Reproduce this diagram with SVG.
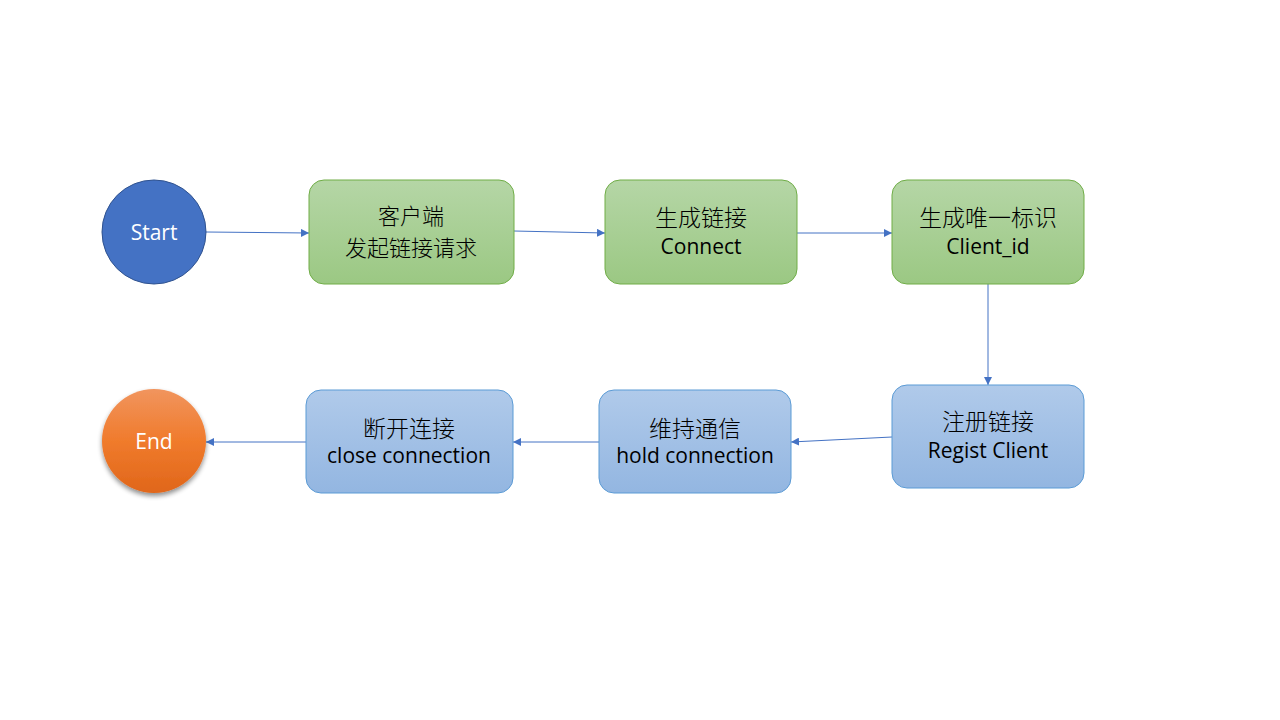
<svg xmlns="http://www.w3.org/2000/svg" width="1280" height="720" viewBox="0 0 1280 720">
<defs>
<linearGradient id="gGreen" x1="0" y1="0" x2="0" y2="1">
<stop offset="0" stop-color="#b5d6a6"/>
<stop offset="1" stop-color="#9bc883"/>
</linearGradient>
<linearGradient id="gBlue" x1="0" y1="0" x2="0" y2="1">
<stop offset="0" stop-color="#b0caea"/>
<stop offset="1" stop-color="#93b6e1"/>
</linearGradient>
<linearGradient id="gOrange" x1="0" y1="0" x2="0" y2="1">
<stop offset="0" stop-color="#f1955e"/>
<stop offset="0.5" stop-color="#f07b2c"/>
<stop offset="1" stop-color="#e0661a"/>
</linearGradient>
<filter id="shadow" x="-30%" y="-30%" width="160%" height="170%">
<feGaussianBlur in="SourceAlpha" stdDeviation="2.5"/>
<feOffset dx="0" dy="3" result="b"/>
<feComponentTransfer><feFuncA type="linear" slope="0.45"/></feComponentTransfer>
<feMerge><feMergeNode/><feMergeNode in="SourceGraphic"/></feMerge>
</filter>
<marker id="arr" viewBox="0 0 10 10" refX="10" refY="5" markerWidth="8" markerHeight="8" markerUnits="userSpaceOnUse" orient="auto">
<path d="M0,0 L10,5 L0,10 Z" fill="#4472c4"/>
</marker>
</defs>
<style>
.g{fill:url(#gGreen);stroke:#70ad47;stroke-width:1}
.b{fill:url(#gBlue);stroke:#5b9bd5;stroke-width:1}
.t{font-family:"Open Sans","Noto Sans CJK SC",sans-serif;font-size:21px;fill:#000;text-anchor:middle}
.z{font-family:"Noto Sans CJK SC",sans-serif;font-size:23px;font-weight:300;fill:#000;text-anchor:middle}
.w{font-family:"Open Sans","Noto Sans CJK SC",sans-serif;font-size:21px;fill:#fff;text-anchor:middle}
.c{stroke:#4472c4;stroke-width:1;fill:none;marker-end:url(#arr)}
</style>
<rect width="1280" height="720" fill="#fff"/>
<g id="connectors">
<line class="c" x1="206" y1="232" x2="309" y2="233"/>
<line class="c" x1="514" y1="231" x2="605" y2="233"/>
<line class="c" x1="797" y1="233" x2="892" y2="233"/>
<line class="c" x1="988" y1="284" x2="988" y2="385"/>
<line class="c" x1="892" y1="437" x2="791" y2="442"/>
<line class="c" x1="599" y1="442" x2="513" y2="442"/>
<line class="c" x1="306" y1="442" x2="206" y2="442"/>
</g>
<g id="start">
<circle cx="154" cy="232" r="52" fill="#4472c4" stroke="#2f528f" stroke-width="1"/>
<text class="w" x="154" y="240">Start</text>
</g>
<g id="n1">
<rect class="g" x="309" y="180" width="205" height="104" rx="15"/>
<text class="z" x="411" y="224" style="font-size:22px">客户端</text>
<text class="z" x="411" y="256" style="font-size:22px">发起链接请求</text>
</g>
<g id="n2">
<rect class="g" x="605" y="180" width="192" height="104" rx="15"/>
<text class="z" x="701" y="226">生成链接</text>
<text class="t" x="701" y="254">Connect</text>
</g>
<g id="n3">
<rect class="g" x="892" y="180" width="192" height="104" rx="15"/>
<text class="z" x="988" y="226">生成唯一标识</text>
<text class="t" x="988" y="254">Client_id</text>
</g>
<g id="n4">
<rect class="b" x="892" y="385" width="192" height="103" rx="15"/>
<text class="z" x="988" y="430">注册链接</text>
<text class="t" x="988" y="458">Regist Client</text>
</g>
<g id="n5">
<rect class="b" x="599" y="390" width="192" height="103" rx="15"/>
<text class="z" x="695" y="437">维持通信</text>
<text class="t" x="695" y="463">hold connection</text>
</g>
<g id="n6">
<rect class="b" x="306" y="390" width="207" height="103" rx="15"/>
<text class="z" x="409" y="437">断开连接</text>
<text class="t" x="409" y="463">close connection</text>
</g>
<g id="end">
<circle cx="154" cy="441" r="52" fill="url(#gOrange)" filter="url(#shadow)"/>
<text class="w" x="154" y="449">End</text>
</g>
</svg>
